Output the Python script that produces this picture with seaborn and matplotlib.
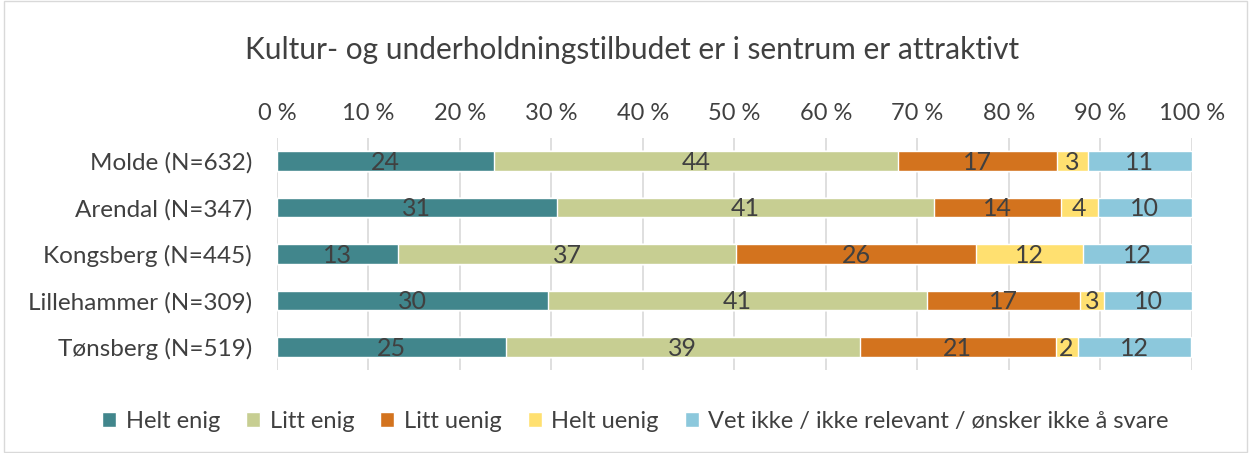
import matplotlib
matplotlib.use("Agg")
import matplotlib.pyplot as plt
import seaborn as sns
import pandas as pd
import numpy as np

# data (percent shares)
towns = ["Molde (N=632)", "Arendal (N=347)", "Kongsberg (N=445)",
         "Lillehammer (N=309)", "Tønsberg (N=519)"]
categories = ["Helt enig", "Litt enig", "Litt uenig", "Helt uenig",
              "Vet ikke / ikke relevant / ønsker ikke å svare"]
helt_enig = [23.7, 30.6, 13.2, 29.6, 25.0]
litt_enig = [44.2, 41.2, 37.0, 41.4, 38.7]
litt_uenig = [17.3, 13.9, 26.2, 16.8, 21.4]
helt_uenig = [3.4, 4.0, 11.7, 2.6, 2.4]
vet_ikke = [11.4, 10.3, 11.9, 9.6, 12.4]
labels = [
    [24, 31, 13, 30, 25],
    [44, 41, 37, 41, 39],
    [17, 14, 26, 17, 21],
    [3, 4, 12, 3, 2],
    [11, 10, 12, 10, 12],
]
colors = ["#41868C", "#C7CE92", "#D3731E", "#FFE070", "#8CC8DC"]

sns.set_theme(style="white")
plt.rcParams["font.family"] = ["Lato", "DejaVu Sans"]

df = pd.DataFrame({"town": towns, categories[0]: helt_enig, categories[1]: litt_enig,
                   categories[2]: litt_uenig, categories[3]: helt_uenig,
                   categories[4]: vet_ikke})
vals = df[categories].to_numpy()
cum = np.cumsum(vals, axis=1)

fig = plt.figure(figsize=(12.51, 4.53), dpi=100)
ax = fig.add_axes([0.2214, 0.183, 0.7314, 0.513])

# draw cumulative bars from the end backwards so each segment shows
for i in range(len(categories) - 1, -1, -1):
    d = pd.DataFrame({"town": towns, "x": cum[:, i]})
    sns.barplot(data=d, x="x", y="town", color=colors[i], width=0.42,
                ax=ax, orient="h", saturation=1, zorder=2, label=categories[i])

for i in range(len(categories)):
    left = cum[:, i] - vals[:, i]
    for j in range(len(towns)):
        ax.text(left[j] + vals[j, i] / 2, j + 0.03, str(labels[i][j]), ha="center",
                va="center", fontsize=18, color="#404040", zorder=3)

ax.set_xlim(0, 100)
ax.set_ylim(4.5, -0.5)
ax.xaxis.tick_top()
ax.set_xticks(np.arange(0, 101, 10))
ax.set_xticklabels([f"{t} %" for t in range(0, 101, 10)], fontsize=17, color="#404040")
ax.tick_params(axis="x", length=0, pad=10)
ax.tick_params(axis="y", length=0, labelsize=17.5, labelcolor="#404040", pad=18)
ax.set_xlabel("")
ax.set_ylabel("")
ax.grid(axis="x", color="#D9D9D9", linewidth=1.2, zorder=0)
ax.set_axisbelow(True)
for s in ax.spines.values():
    s.set_visible(False)

fig.text(0.505, 0.89, "Kultur- og underholdningstilbudet er i sentrum er attraktivt",
         ha="center", va="center", fontsize=21.5, color="#404040")

handles, hl = ax.get_legend_handles_labels()
order = [hl.index(c) for c in categories]
fig.legend([handles[k] for k in order], [hl[k] for k in order], loc="center",
           bbox_to_anchor=(0.508, 0.07), ncol=5, frameon=False, fontsize=17,
           handlelength=0.6, handleheight=0.6, handletextpad=0.4, columnspacing=1.1,
           labelcolor="#404040")
if ax.get_legend():
    ax.get_legend().remove()

fig.patches.append(plt.Rectangle((0.003, 0.003), 0.994, 0.994, transform=fig.transFigure,
                                 fill=False, edgecolor="#D9D9D9", linewidth=1))

fig.savefig("out.png", dpi=100)
